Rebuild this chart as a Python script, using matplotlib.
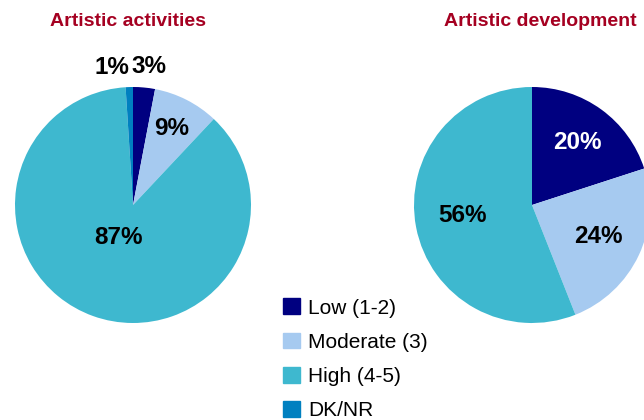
import numpy as np
import matplotlib.pyplot as plt

categories = ["Low (1-2)", "Moderate (3)", "High (4-5)", "DK/NR"]
activities = [3, 9, 87, 1]
development = [20, 24, 56, 0]
titles = ["Artistic activities", "Artistic development"]

colors = ["#000080", "#A6CAF0", "#3EB8CF", "#0080C0"]
title_color = "#A50021"

plt.rcParams['font.family'] = ['Liberation Sans', 'DejaVu Sans']

W, H = 644, 420
fig = plt.figure(figsize=(W / 100, H / 100), dpi=100)
ax = fig.add_axes([0, 0, 1, 1])

# pixel layout: pie centres (x, y from top), radius
centres = [(133, 205), (532, 205)]
radius = 118
title_pos = [(128, 22), (540, 22)]
# label distance (fraction of radius) and angle nudge per wedge
label_dist = [[1.18, 0.73, 0.3, 1.18], [0.65, 0.62, 0.6, 0]]
label_nudge = [[-1, 0, -4, 7], [0, 0, -2, 0]]
label_col = [["black", "black", "black", "black"], ["white", "black", "black", "black"]]

for k, vals in enumerate([activities, development]):
    cx, cy = centres[k]
    ax.pie(vals, colors=colors, startangle=90, counterclock=False,
           center=(cx, H - cy), radius=radius, frame=True,
           wedgeprops=dict(linewidth=0))
    total = sum(vals)
    start = 90.0
    for i, v in enumerate(vals):
        span = 360.0 * v / total
        mid = start - span / 2 + label_nudge[k][i]
        start -= span
        if v == 0:
            continue
        r = label_dist[k][i] * radius
        ax.text(cx + r * np.cos(np.radians(mid)), H - cy + r * np.sin(np.radians(mid)),
                f"{v}%", ha='center', va='center', fontsize=17.5, fontweight='bold',
                color=label_col[k][i])
    tx, ty = title_pos[k]
    ax.text(tx, H - ty, titles[k], ha='center', va='center', fontsize=14,
            fontweight='bold', color=title_color)

ax.set_xlim(0, W)
ax.set_ylim(0, H)
ax.set_aspect('equal')
ax.axis('off')

handles = [plt.Rectangle((0, 0), 1, 1, color=c) for c in colors]
fig.legend(handles, categories, loc='upper left', bbox_to_anchor=(275 / W, 1 - 290 / H),
           frameon=False, fontsize=15, handlelength=0.8, handleheight=0.8,
           handletextpad=0.4, labelspacing=0.72, borderaxespad=0)

fig.savefig("out.png", dpi=100)
